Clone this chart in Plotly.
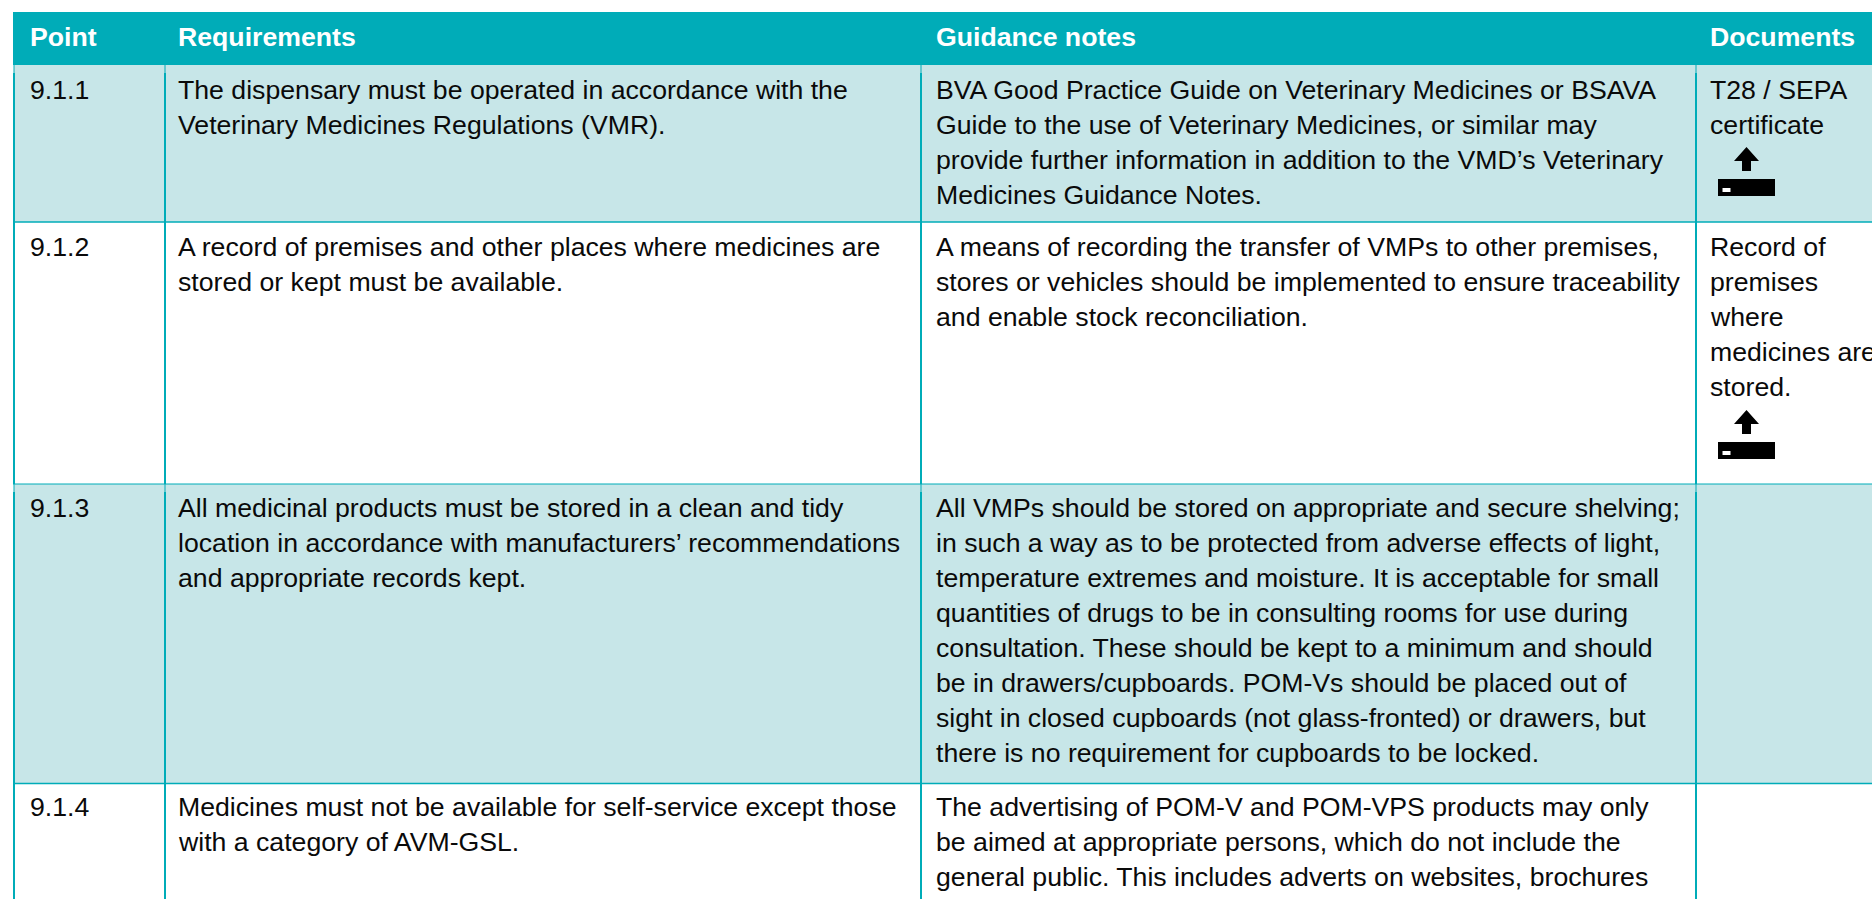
import plotly.graph_objects as go

HEADERS = ["Point", "Requirements", "Guidance notes", "Documents"]
POINTS = ["9.1.1", "9.1.2", "9.1.3", "9.1.4"]
REQUIREMENTS = [
    ["The dispensary must be operated in accordance with the", "Veterinary Medicines Regulations (VMR)."],
    ["A record of premises and other places where medicines are", "stored or kept must be available."],
    ["All medicinal products must be stored in a clean and tidy", "location in accordance with manufacturers’ recommendations", "and appropriate records kept."],
    ["Medicines must not be available for self-service except those", "with a category of AVM-GSL."],
]
GUIDANCE = [
    ["BVA Good Practice Guide on Veterinary Medicines or BSAVA", "Guide to the use of Veterinary Medicines, or similar may", "provide further information in addition to the VMD’s Veterinary", "Medicines Guidance Notes."],
    ["A means of recording the transfer of VMPs to other premises,", "stores or vehicles should be implemented to ensure traceability", "and enable stock reconciliation."],
    ["All VMPs should be stored on appropriate and secure shelving;", "in such a way as to be protected from adverse effects of light,", "temperature extremes and moisture. It is acceptable for small", "quantities of drugs to be in consulting rooms for use during", "consultation. These should be kept to a minimum and should", "be in drawers/cupboards. POM-Vs should be placed out of", "sight in closed cupboards (not glass-fronted) or drawers, but", "there is no requirement for cupboards to be locked."],
    ["The advertising of POM-V and POM-VPS products may only", "be aimed at appropriate persons, which do not include the", "general public. This includes adverts on websites, brochures"],
]
DOCUMENTS = [
    ["T28 / SEPA", "certificate"],
    ["Record of", "premises", "where", "medicines are", "stored."],
    [],
    [],
]
ROW_FILLS = ["#C7E6E8", "#FFFFFF", "#C7E6E8", "#FFFFFF"]
ICON_ROWS = [0, 1]

W, H = 1872, 899
TEAL = "#00ACB8"
COL_LINES = [14, 165, 921, 1696]
TEXT_X = [28.5, 177, 934.5, 1709]
ROW_TOPS = [65, 222, 484, 783.5]
FIRST_LINE_Y = [90, 246.5, 507.5, 807]
HLINE_W = [1.5, 1, 1.5]
ROW_BOTTOM = 899
TOP = 12
LEFT = 13
PITCH = 35.1
FONT = "Liberation Sans, Arial, sans-serif"
FS = 26.67
ICON_Y = [179, 442]

shapes = [dict(type="rect", x0=LEFT, x1=W, y0=TOP, y1=ROW_TOPS[0], fillcolor=TEAL, line_width=0, layer="below")]
bottoms = ROW_TOPS[1:] + [ROW_BOTTOM]
for top, bot, fill in zip(ROW_TOPS, bottoms, ROW_FILLS):
    shaded = fill != "#FFFFFF"
    start = top + 8 if shaded else top
    shapes.append(dict(type="rect", x0=14, x1=W, y0=top, y1=bot, fillcolor=fill, line_width=0, layer="below"))
    for x in COL_LINES:
        shapes.append(dict(type="line", x0=x, x1=x, y0=start, y1=bot, line=dict(color=TEAL, width=2), layer="above"))
        if shaded:
            shapes.append(dict(type="line", x0=x, x1=x, y0=top, y1=start,
                               line=dict(color=TEAL, width=1), layer="above"))
for y, w in zip(ROW_TOPS[1:], HLINE_W):
    shapes.append(dict(type="line", x0=LEFT, x1=W, y0=y, y1=y, line=dict(color=TEAL, width=w), layer="above"))

for row in ICON_ROWS:
    y = ICON_Y[row]
    shapes.append(dict(type="rect", x0=1718, x1=1775, y0=y, y1=y + 17, fillcolor="#000000", line_width=0))
    shapes.append(dict(type="rect", x0=1722.5, x1=1730.5, y0=y + 9, y1=y + 13, fillcolor="#FFFFFF", line_width=0))
    shapes.append(dict(type="path",
                       path=f"M1746.5,{y-32} L1759,{y-18} L1751,{y-18} L1751,{y-8} L1742,{y-8} L1742,{y-18} L1734,{y-18} Z",
                       fillcolor="#000000", line_width=0))

annotations = []
def add(x, y, text, bold=False, color="#0A0A0A"):
    annotations.append(dict(x=x, y=y, xref="x", yref="y", text=f"<b>{text}</b>" if bold else text,
                            showarrow=False, xanchor="left", yanchor="middle", align="left", borderpad=0,
                            font=dict(family=FONT, size=FS, color=color)))

for x, h in zip(TEXT_X, HEADERS):
    add(x, 37, h, bold=True, color="#FFFFFF")
for i, y0 in enumerate(FIRST_LINE_Y):
    add(TEXT_X[0], y0, POINTS[i])
    for col, lines in zip(TEXT_X[1:], (REQUIREMENTS[i], GUIDANCE[i], DOCUMENTS[i])):
        for j, line in enumerate(lines):
            add(col, y0 + j * PITCH, line)

fig = go.Figure()
fig.update_layout(width=W, height=H, margin=dict(l=0, r=0, t=0, b=0), paper_bgcolor="#FFFFFF", plot_bgcolor="#FFFFFF",
                  showlegend=False, shapes=shapes, annotations=annotations,
                  xaxis=dict(range=[0, W], visible=False, fixedrange=True),
                  yaxis=dict(range=[H, 0], visible=False, fixedrange=True))
fig.write_html("out.html", config=dict(displayModeBar=False),
               post_script="document.body.style.margin='0';document.body.style.overflow='hidden';")
